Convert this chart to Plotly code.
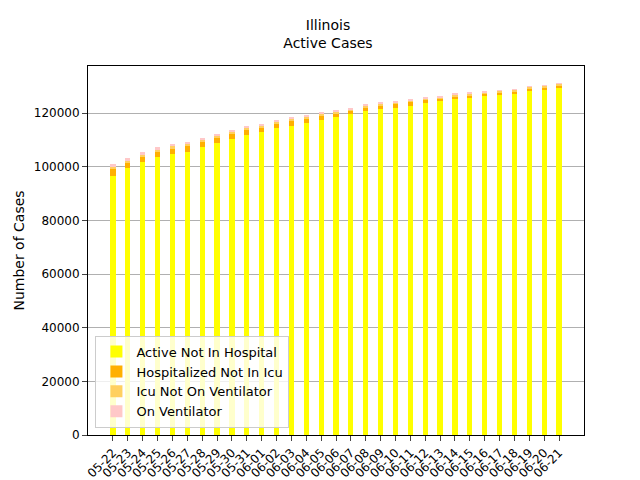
import plotly.graph_objects as go

dates = ["05-22", "05-23", "05-24", "05-25", "05-26", "05-27", "05-28", "05-29", "05-30", "05-31",
         "06-01", "06-02", "06-03", "06-04", "06-05", "06-06", "06-07", "06-08", "06-09", "06-10",
         "06-11", "06-12", "06-13", "06-14", "06-15", "06-16", "06-17", "06-18", "06-19", "06-20", "06-21"]
active_not_hosp = [96750, 99500, 101625, 103500, 104625, 105375, 107250, 108750, 110250, 111750,
                   112875, 114375, 115125, 116250, 117375, 118500, 119750, 120750, 121500, 121875,
                   122625, 123750, 124500, 125250, 125625, 126375, 126750, 127125, 128250, 129000, 129375]
hosp_not_icu = [2425, 1995, 2150, 2180, 2200, 2230, 1905, 1935, 2080, 1985,
                1680, 1700, 2075, 1750, 1780, 1465, 1085, 1535, 1555, 1575,
                1605, 1280, 975, 1090, 1110, 1025, 1035, 1045, 1055, 740, 1085]
icu_not_vent = [1050, 1000, 980, 960, 950, 930, 900, 880, 870, 850,
                800, 790, 800, 760, 740, 700, 600, 660, 650, 640,
                620, 580, 520, 540, 530, 500, 500, 490, 490, 440, 480]
on_vent = [650, 630, 620, 610, 600, 590, 570, 560, 550, 540,
           520, 510, 500, 490, 480, 460, 440, 430, 420, 410,
           400, 390, 380, 370, 360, 350, 340, 340, 330, 320, 310]

x = list(range(len(dates)))
series = [
    ("Active Not In Hospital", active_not_hosp, "#FFFF00"),
    ("Hospitalized Not In Icu", hosp_not_icu, "#FFB000"),
    ("Icu Not On Ventilator", icu_not_vent, "#FFD060"),
    ("On Ventilator", on_vent, "#FFC8C8"),
]

fig = go.Figure()
for name, vals, color in series:
    fig.add_trace(go.Bar(x=x, y=vals, name=name, marker_color=color,
                         marker_line_width=0, width=0.35))

fig.update_layout(
    barmode="stack",
    width=640, height=480,
    paper_bgcolor="white", plot_bgcolor="white",
    margin=dict(l=80, r=64, t=58, b=53, autoexpand=False),
    font=dict(family="DejaVu Sans", size=12, color="black"),
    title=dict(text="Illinois<br>Active Cases", x=0.5, xanchor="center", y=0.955,
               font=dict(size=14)),
    showlegend=True,
    legend=dict(x=0.015, y=0.02, xanchor="left", yanchor="bottom",
                font=dict(size=13),
                bgcolor="rgba(255,255,255,0.8)", bordercolor="#cccccc", borderwidth=1,
                traceorder="normal"),
)
fig.update_xaxes(range=[-1.68, 31.68], tickvals=x, ticktext=dates, tickangle=-45,
                 showgrid=False, showline=True, linecolor="black", mirror=True,
                 ticks="outside", zeroline=False, automargin=False)
fig.update_yaxes(range=[0, 137600], dtick=20000, tickformat="d", showgrid=True,
                 gridcolor="#b0b0b0", showline=True, linecolor="black", mirror=True,
                 ticks="outside", zeroline=False, automargin=False,
                 title=dict(text="Number of Cases", standoff=5))

fig.write_html("out.html")
